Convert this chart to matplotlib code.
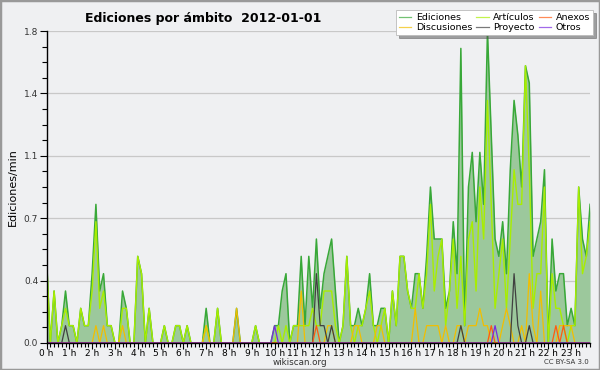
import numpy as np
import matplotlib
matplotlib.use('Agg')
import matplotlib.pyplot as plt
from matplotlib.patches import Rectangle
from matplotlib.ticker import MultipleLocator, FixedLocator, FuncFormatter

# -- Edits per minute, 10-minute bins (144 bins for 2012-01-01)

ediciones = [
    .5, 0, .3, 0, .1, .3, .1, .1, 0, .2, .1, .1, .4, .8, .3, .4, .1, .1, 0, 0, .3, .2, 0, 0,
    .5, .4, 0, .2, 0, 0, 0, .1, 0, 0, .1, .1, 0, .1, 0, 0, 0, 0, .2, 0, 0, .2, 0, 0,
    0, 0, .2, 0, 0, 0, 0, .1, 0, 0, 0, 0, .1, .1, .3, .4, 0, .1, .1, .5, .1, .5, .2, .6,
    .2, .4, .5, .6, .3, 0, .1, .5, .1, .1, .2, .1, .2, .4, .1, .1, .2, .2, 0, .3, .1, .5,
    .5, .3, .2, .4, .4, .2, .5, .9, .6, .6, .6, .2, .3, .7, .4, 1.7, .1, .9, 1.1, .7, 1.1, .8, 1.8, 1.2,
    .6, .5, .7, .4, 1.0, 1.4, 1.2, .9, 1.6, 1.5, .5, .6, .7, 1.0, 0, .6, .3, .4, .4, .1, .2, .1, .9, .6,
    .5, .8,
]
articulos = [
    .5, 0, .3, 0, .1, .2, .1, .1, 0, .2, .1, .1, .3, .7, .2, .3, .1, .1, 0, 0, .2, .2, 0, 0,
    .5, .4, 0, .2, 0, 0, 0, .1, 0, 0, .1, .1, 0, .1, 0, 0, 0, 0, .1, 0, 0, .2, 0, 0,
    0, 0, 0, 0, 0, 0, 0, .1, 0, 0, 0, 0, 0, .1, 0, .1, 0, .1, .1, .1, .1, .1, .2, .1,
    .1, .3, .3, .3, .1, 0, .1, .5, .1, 0, .1, .1, .2, .3, .1, 0, .1, .2, 0, .3, .1, .5,
    .5, .3, .2, .2, .4, .2, .4, .8, .3, .5, .6, .1, .3, .6, .2, .5, .1, .6, .7, .3, .9, .6, 1.4, .8,
    .2, .4, .6, .2, .6, 1.0, .8, .8, 1.6, 1.0, .2, .4, .4, .9, 0, .4, .2, .2, .1, 0, .1, .1, .9, .4,
    .5, .7,
]
discusiones = [0] * 144
for i, v in {13: .1, 15: .1, 20: .1, 42: .1, 50: .2, 67: .3, 74: .1, 75: .1, 81: .1, 82: .1,
             87: .1, 88: .1, 97: .2, 100: .1, 101: .1, 102: .1, 103: .1, 105: .1, 108: .1,
             109: .1, 111: .1, 112: .1, 113: .1, 114: .2, 115: .1, 116: .1, 120: .1, 121: .2,
             122: .1, 125: .1, 127: .4, 128: .1, 130: .3, 135: .1, 136: .1, 137: .1,
             138: .1}.items():
    discusiones[i] = v
proyecto = [0] * 144
for i, v in {5: .1, 71: .4, 72: .1, 73: .1, 75: .1, 109: .1, 123: .4, 124: .1, 127: .1}.items():
    proyecto[i] = v
anexos = [0] * 144
for i, v in {71: .1, 117: .1, 134: .1, 136: .1}.items():
    anexos[i] = v
otros = [0] * 144
for i, v in {60: .1, 118: .1}.items():
    otros[i] = v

hours = np.arange(144) / 6
hour_labels = ['%d h' % h for h in range(24)]

bg = '#eff0f2'
fig = plt.figure(figsize=(6, 3.7), dpi=100, facecolor=bg)
ax = fig.add_axes([0.0775, 0.073, 0.906, 0.843], facecolor=bg)

ax.fill_between(hours, ediciones, color='#9cc89c', lw=0)
l_ed, = ax.plot(hours, ediciones, color='#38a838', lw=1.1, label='Ediciones')
l_ar, = ax.plot(hours, articulos, color='#a8ee00', lw=1.0, label='Artículos')
l_di, = ax.plot(hours, discusiones, color='#f2be00', lw=0.9, label='Discusiones')
l_pr, = ax.plot(hours, proyecto, color='#404040', lw=0.9, label='Proyecto')
l_an, = ax.plot(hours, anexos, color='#ff5a10', lw=0.9, label='Anexos')
l_ot, = ax.plot(hours, otros, color='#7a2be0', lw=0.9, label='Otros')

ax.set_xlim(0, 143 / 6)
ax.set_ylim(0, 1.8)

yt = np.linspace(0, 1.8, 6)
ax.yaxis.set_major_locator(FixedLocator(yt))
ax.yaxis.set_minor_locator(MultipleLocator(0.09))
ax.yaxis.set_major_formatter(FuncFormatter(lambda v, p: '%.1f' % v))
ax.xaxis.set_major_locator(FixedLocator(range(24)))
ax.xaxis.set_minor_locator(MultipleLocator(1 / 6))
ax.set_xticklabels(hour_labels)

ax.tick_params(axis='y', which='major', length=5, width=0.8, labelsize=6.5,
               labelcolor='#333333', pad=1)
ax.tick_params(axis='y', which='minor', length=3.5, width=0.8)
ax.tick_params(axis='x', which='major', length=4, width=0.8, labelsize=6.5, pad=0.5)
ax.tick_params(axis='x', which='minor', length=3, width=0.8)
ax.grid(True, axis='y', which='major', color='#c8c8c8', lw=0.9)
ax.set_axisbelow(True)
for s in ['top', 'right']:
    ax.spines[s].set_visible(False)
ax.spines['left'].set_linewidth(1.0)
ax.spines['bottom'].set_linewidth(1.0)

ax.set_ylabel('Ediciones/min', fontsize=8, labelpad=4)

fig.text(0.142, 0.951, 'Ediciones por ámbito  2012-01-01', fontsize=9,
         fontweight='bold', va='center', ha='left')
fig.text(0.5, 0.021, 'wikiscan.org', fontsize=6.3, ha='center', va='center',
         color='#333333')
fig.text(0.982, 0.021, 'CC BY-SA 3.0', fontsize=5, ha='right', va='center',
         color='#333333')

leg = fig.legend([l_ed, l_di, l_ar, l_pr, l_an, l_ot],
                 ['Ediciones', 'Discusiones', 'Artículos', 'Proyecto', 'Anexos', 'Otros'],
                 ncol=3, loc='upper right', bbox_to_anchor=(0.988, 0.972),
                 fontsize=6.8, frameon=True, fancybox=False, shadow=True,
                 handlelength=1.3, handletextpad=0.5, columnspacing=0.4,
                 labelspacing=0.1, borderpad=0.3, borderaxespad=0)
leg.get_frame().set_edgecolor('#bbbbbb')
leg.get_frame().set_linewidth(0.6)
for line in leg.get_lines():
    line.set_linewidth(0.9)
    line.set_alpha(0.7)

fig.patches.append(Rectangle((0, 0), 1, 1, transform=fig.transFigure, fill=False,
                             edgecolor='#999999', lw=2.5))

fig.savefig('out.png', dpi=100, facecolor=bg)
